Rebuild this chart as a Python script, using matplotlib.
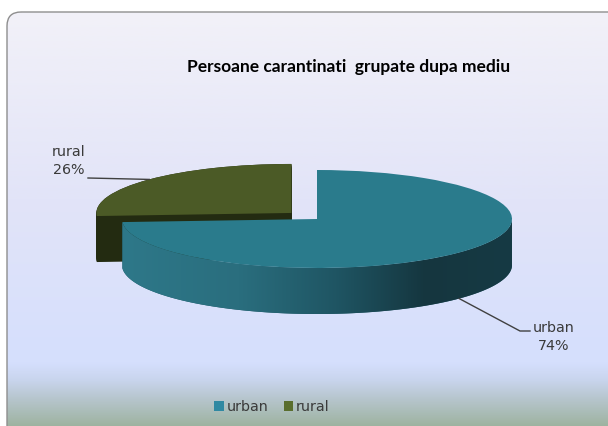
import numpy as np
import matplotlib
matplotlib.use('Agg')
import matplotlib.pyplot as plt
from matplotlib.patches import FancyBboxPatch, Polygon, Patch
from matplotlib.colors import LinearSegmentedColormap

# ---------------- data ----------------
categories = ['urban', 'rural']
values = [74, 26]
pct_labels = ['74%', '26%']
explode = [0.0, 0.18]
top_colors = ['#2A7B8C', '#4B5A26']
side_colors = ['#1E5563', '#232B11']
legend_colors = ['#3089A2', '#5A6E2E']
title = 'Persoane carantinati  grupate dupa mediu'

W, H = 608, 426
fig = plt.figure(figsize=(W / 100, H / 100), dpi=100)
fig.patch.set_facecolor('white')

# ---------------- background panel ----------------
bg = fig.add_axes([0, 0, 1, 1])
bg.set_xlim(0, W)
bg.set_ylim(H, 0)
bg.axis('off')
bg_cmap = LinearSegmentedColormap.from_list('bg', [
    (0.000, '#F2F1F8'),
    (0.450, '#E2E4F8'),
    (0.844, '#D5DFFD'),
    (0.885, '#C9D5EE'),
    (0.933, '#B6C5CC'),
    (1.000, '#9CB29E'),
])
grad = np.linspace(0, 1, 256).reshape(-1, 1)
box = FancyBboxPatch((7, 12), 660, 460, boxstyle='round,pad=0,rounding_size=14',
                     facecolor='none', edgecolor='#8E8E8E', lw=1.0, zorder=2)
bg.add_patch(box)
im = bg.imshow(grad, cmap=bg_cmap, extent=[7, 667, 428, 12], aspect='auto', zorder=1)
im.set_clip_path(box)

# ---------------- pie axes ----------------
AX_PX, AY_PX = 195.0, 49.0   # pixels per data unit
CX, CY = 317.0, 219.0        # pixel position of pie centre
depth = 46.0 / AY_PX


def px2d(px, py):
    return ((px - CX) / AX_PX, (CY - py) / AY_PX)


ax = fig.add_axes([0, 0, 1, 1])
ax.patch.set_alpha(0)

# rural side (stacked layers)
for t in np.linspace(depth, 0, 60):
    ax.pie(values, startangle=90, counterclock=False, explode=explode,
           center=(0, -t), colors=['none', side_colors[1]],
           wedgeprops={'linewidth': 0, 'zorder': 1})
# rural top
wedges, _ = ax.pie(values, startangle=90, counterclock=False, explode=explode,
                   colors=['none', top_colors[1]],
                   wedgeprops={'linewidth': 0, 'zorder': 2})

# urban side wall with horizontal gradient
w_u = wedges[0]
cxu, cyu = w_u.center
t1, t2 = w_u.theta1, w_u.theta2
th = np.radians(np.linspace(max(t1, -180), min(t2, 0), 300))
top_arc = np.column_stack([cxu + np.cos(th), cyu + np.sin(th)])
bot_arc = np.column_stack([cxu + np.cos(th), cyu + np.sin(th) - depth])
wall = Polygon(np.vstack([top_arc, bot_arc[::-1]]), closed=True,
               facecolor=side_colors[0], edgecolor='none', zorder=3)
ax.add_patch(wall)
side_cmap = LinearSegmentedColormap.from_list('side', [
    (0.00, '#2E7889'),
    (0.30, '#2A6E7E'),
    (0.55, '#1F5563'),
    (0.78, '#15363F'),
    (1.00, '#163A44'),
])
g = ax.imshow(np.linspace(0, 1, 256).reshape(1, -1), cmap=side_cmap,
              extent=[-1, 1, -1 - depth, 0.1], aspect='auto', zorder=3.5)
g.set_clip_path(wall)

# urban top
wedges_u, _ = ax.pie(values, startangle=90, counterclock=False, explode=explode,
                     colors=[top_colors[0], 'none'],
                     wedgeprops={'linewidth': 0, 'zorder': 4})

ax.set_aspect('auto')
ax.set_xlim(-CX / AX_PX, (W - CX) / AX_PX)
ax.set_ylim(-(H - CY) / AY_PX, CY / AY_PX)
ax.axis('off')

# ---------------- labels with leader lines ----------------
lab_color = '#3A3A3A'
line_color = '#404040'
font_lab = dict(family='DejaVu Sans', fontsize=10.3, color=lab_color)

# rural: anchor on top rim at mid angle
w_r = wedges[1]
mid_r = np.radians((w_r.theta1 + w_r.theta2) / 2)
ar = (w_r.center[0] + np.cos(mid_r), w_r.center[1] + np.sin(mid_r))
p_end = px2d(88, 178)
ax.plot([ar[0], p_end[0]], [ar[1], p_end[1]], color=line_color, lw=1.0, zorder=6)
ax.text(*px2d(69, 161), f'{categories[1]}\n{pct_labels[1]}', ha='center', va='center',
        linespacing=1.45, zorder=7, **font_lab)

# urban: anchor on bottom rim at mid angle
mid_u = np.radians((w_u.theta1 + w_u.theta2) / 2)
au = (cxu + np.cos(mid_u), cyu + np.sin(mid_u) - depth)
p1 = px2d(520, 331)
p2 = px2d(530, 331)
ax.plot([au[0], p1[0], p2[0]], [au[1], p1[1], p2[1]], color=line_color, lw=1.0, zorder=6)
ax.text(*px2d(554, 337), f'{categories[0]}\n{pct_labels[0]}', ha='center', va='center',
        linespacing=1.45, zorder=7, **font_lab)

# ---------------- title ----------------
fig.text(349 / W, 1 - 67 / H, title, ha='center', va='center',
         fontsize=12.5, fontweight='bold', family='Lato', color='black')

# ---------------- legend ----------------
handles = [Patch(facecolor=c, edgecolor='none') for c in legend_colors]
leg = fig.legend(handles, categories, loc='center', ncol=2,
                 bbox_to_anchor=(272 / W, 1 - 407 / H), frameon=False,
                 handlelength=0.65, handleheight=0.65, handletextpad=0.2,
                 columnspacing=1.1, prop={'family': 'DejaVu Sans', 'size': 10.3})
for t in leg.get_texts():
    t.set_color(lab_color)

fig.savefig('out.png', dpi=100)
